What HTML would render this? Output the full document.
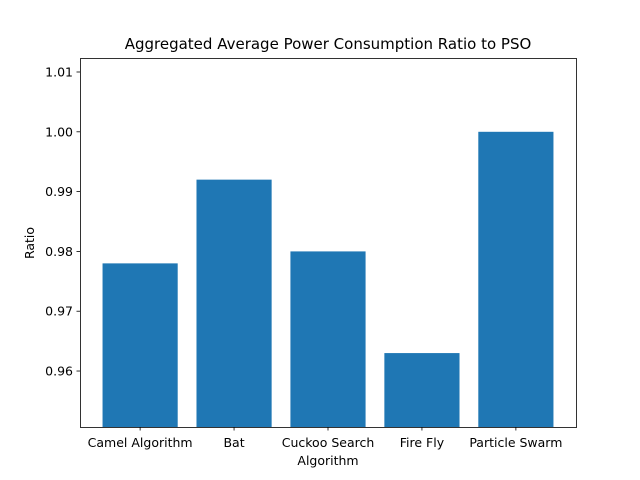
<!DOCTYPE html>
<html><head><meta charset="utf-8"><style>
body{margin:0;background:#fff;}
svg{display:block;font-family:"DejaVu Sans","Liberation Sans",sans-serif;}
</style></head><body>
<svg id="chart" width="640" height="480">
<rect width="640" height="480" fill="#fff"/>
<text x="328" y="49" text-anchor="middle" font-size="15">Aggregated Average Power Consumption Ratio to PSO</text>
<g id="bars"></g>
<g id="yticks"></g>
<g id="xticks"></g>
<rect x="80.5" y="58.5" width="496" height="369" fill="none" stroke="#000" stroke-width="0.8"/>
<text x="328" y="465" text-anchor="middle" font-size="12.5">Algorithm</text>
<text transform="translate(34,243) rotate(-90)" text-anchor="middle" font-size="12.5">Ratio</text>
</svg>
<script>
const categories=["Camel Algorithm","Bat","Cuckoo Search","Fire Fly","Particle Swarm"];
const values=[0.978,0.992,0.980,0.963,1.000];
const yTicks=[0.96,0.97,0.98,0.99,1.00,1.01];
const yTickLabels=["0.96","0.97","0.98","0.99","1.00","1.01"];
const L=80,R=576,T=58,B=427;
const yMin=0.95064,yMax=1.01234;
const xMin=-0.64,xMax=categories.length-1+0.64;
const xs=i=>L+(i-xMin)/(xMax-xMin)*(R-L);
const ys=v=>B-(v-yMin)/(yMax-yMin)*(B-T);
const NS="http://www.w3.org/2000/svg";
const bw=0.8*(R-L)/(xMax-xMin);
const gb=document.getElementById('bars');
values.forEach((v,i)=>{
 const r=document.createElementNS(NS,'rect');
 r.setAttribute('x',xs(i)-bw/2);r.setAttribute('y',ys(v));
 r.setAttribute('width',bw);r.setAttribute('height',B-ys(v));
 r.setAttribute('fill','#1f77b4');
 
 
 gb.appendChild(r);
});
const gy=document.getElementById('yticks');
yTicks.forEach((t,i)=>{
 const y=ys(t);
 const l=document.createElementNS(NS,'line');
 l.setAttribute('x1',L-3.5);l.setAttribute('x2',L);l.setAttribute('y1',y);l.setAttribute('y2',y);
 l.setAttribute('stroke','#000');l.setAttribute('stroke-width','0.8');
 
 
 gy.appendChild(l);
 const tx=document.createElementNS(NS,'text');
 tx.setAttribute('x',L-7);tx.setAttribute('y',y+4.5);tx.setAttribute('text-anchor','end');tx.setAttribute('font-size','12.5');
 tx.textContent=yTickLabels[i];
 
 
 gy.appendChild(tx);
});
const gx=document.getElementById('xticks');
categories.forEach((c,i)=>{
 const x=xs(i);
 const l=document.createElementNS(NS,'line');
 l.setAttribute('x1',x);l.setAttribute('x2',x);l.setAttribute('y1',B);l.setAttribute('y2',B+3.5);
 l.setAttribute('stroke','#000');l.setAttribute('stroke-width','0.8');
 
 
 gx.appendChild(l);
 const tx=document.createElementNS(NS,'text');
 tx.setAttribute('x',x);tx.setAttribute('y',B+20);tx.setAttribute('text-anchor','middle');tx.setAttribute('font-size','12.5');
 tx.textContent=c;
 
 
 gx.appendChild(tx);
});
</script>
</body></html>
